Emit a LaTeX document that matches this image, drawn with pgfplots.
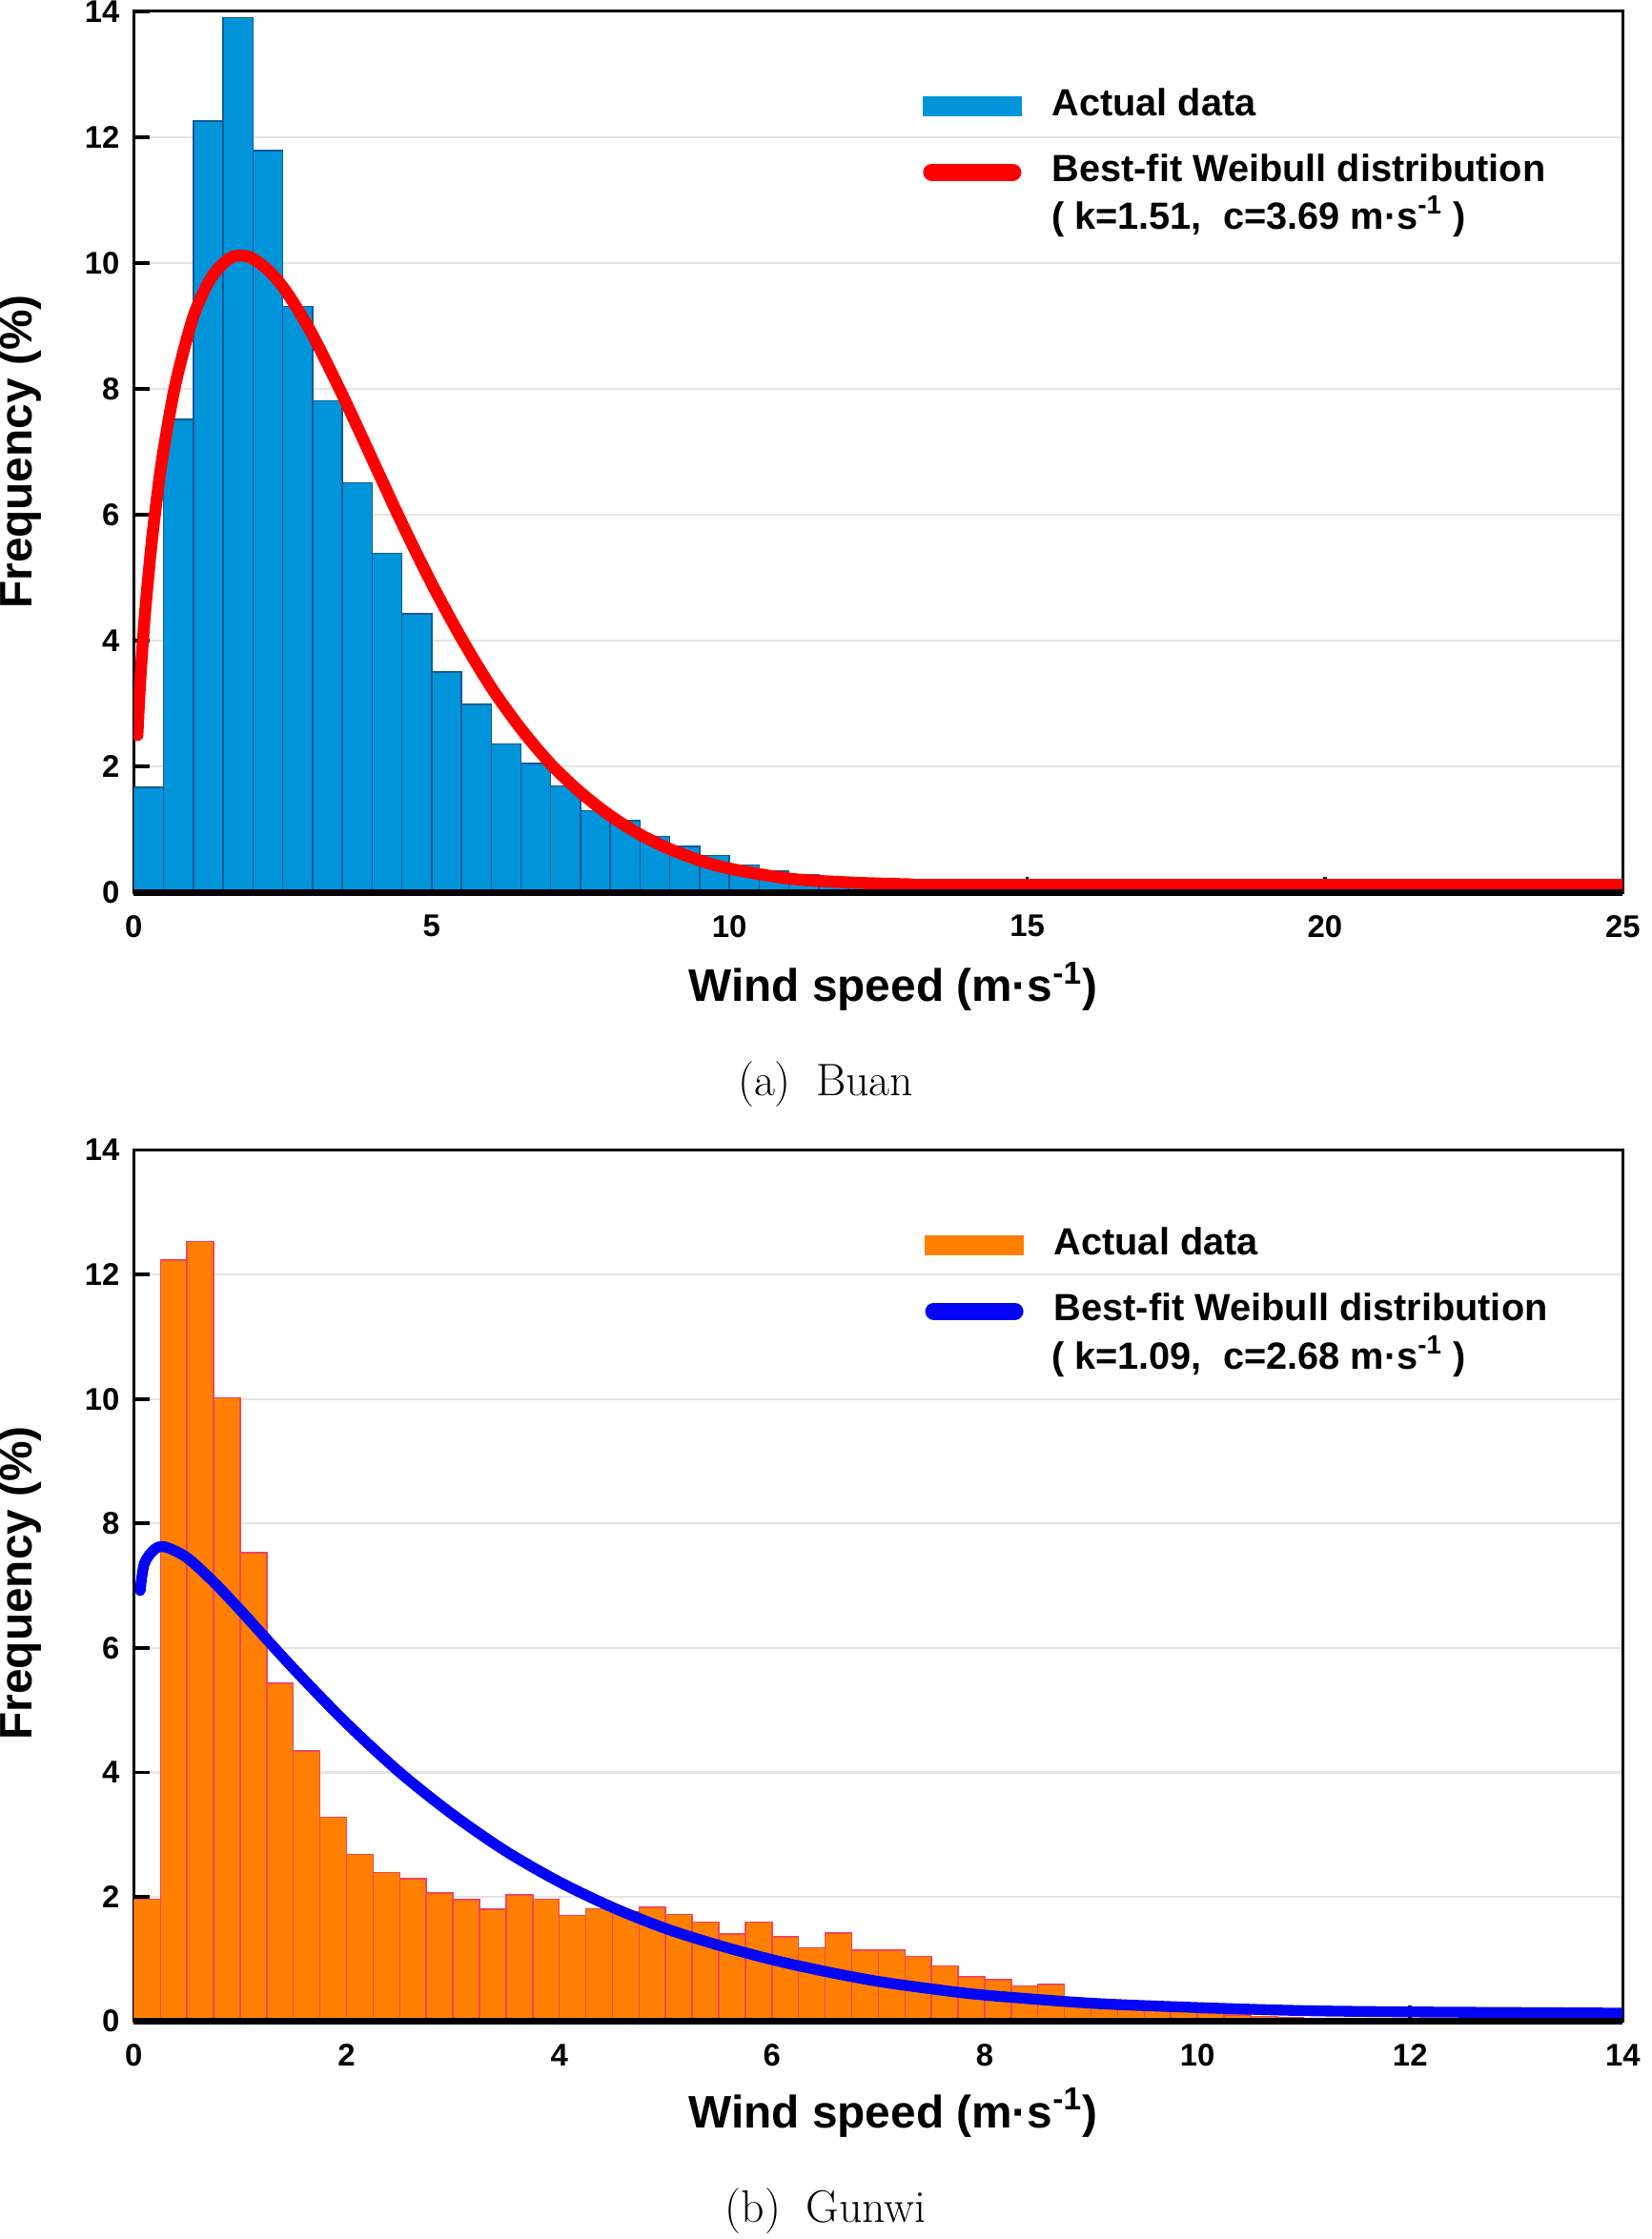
\documentclass[border=0pt]{standalone}
\usepackage{fontspec}
\usepackage{pgfplots}
\pgfplotsset{compat=1.18}
\newfontfamily\sansb{Liberation Sans}
\definecolor{barblue}{RGB}{0,148,218}
\definecolor{baredge}{RGB}{20,90,150}
\definecolor{barorange}{RGB}{255,128,0}
\definecolor{orangeedge}{RGB}{240,70,90}
\definecolor{curvered}{RGB}{255,0,0}
\definecolor{curveblue}{RGB}{5,5,245}
\definecolor{gridgray}{RGB}{228,228,228}
\pgfplotsset{
  layers/mylayers/.define layer set={axis background,axis grid,main,axis ticks,axis lines,axis tick labels,axis descriptions,axis foreground}{},
  mystyle/.style={
    set layers=mylayers,
    scale only axis, width=523pt,
    axis line style={line width=1pt},
    tick align=inside, tick pos=left,
    major tick length=5.5pt,
    tick style={line width=1.2pt, black},
    ymin=0, ymax=14, ytick={0,2,...,14},
    ymajorgrids, major grid style={gridgray, line width=0.8pt},
    /pgf/number format/assume math mode=true,
    ticklabel style={font=\sansb\bfseries\fontsize{11}{13}\selectfont},
    yticklabel style={xshift=-1.5pt},
    xticklabel style={yshift=-4.5pt},
    label style={font=\sansb\bfseries\fontsize{16}{19}\selectfont},
    legend style={draw=none, fill=none, inner sep=0pt, outer sep=0pt,
      row sep=10.4pt, column sep=10.5pt,
      font=\sansb\bfseries\fontsize{13.3}{16}\selectfont,
      nodes={inner sep=0pt, text height=9.7pt, text depth=3pt}},
    legend cell align=left,
  }
}
\begin{document}
\begin{tikzpicture}
\begin{axis}[mystyle, name=top, height=309.5pt, xmin=0, xmax=25, xtick={0,5,...,25},
  xlabel={Wind speed (m·s\textsuperscript{-1})}, ylabel={Frequency (\%)},
  xlabel style={at={(axis description cs:0.51,-0.1066)}, anchor=center},
  ylabel style={at={(axis description cs:-0.0765,0.5)}, anchor=center},
  legend style={at={(axis description cs:0.5296,0.9127)}, anchor=north west}]
\addplot[ybar interval, fill=barblue, draw=baredge, line width=0.5pt,
  legend image code/.code={\fill[barblue] (0pt,-3.2pt) rectangle (34.5pt,3.2pt);}]
  coordinates {(0,1.67) (0.5,7.52) (1,12.26) (1.5,13.9) (2,11.79) (2.5,9.31) (3,7.81)
  (3.5,6.51) (4,5.39) (4.5,4.43) (5,3.50) (5.5,2.99) (6,2.36) (6.5,2.05) (7,1.69)
  (7.5,1.30) (8,1.14) (8.5,0.89) (9,0.73) (9.5,0.59) (10,0.44) (10.5,0.34) (11,0.28)
  (11.5,0.23) (12,0.17) (12.5,0.12) (13,0.09) (13.5,0.06) (14,0.04) (14.5,0.03) (15,0.03)};
\addlegendentry{Actual data}
\addplot[curvered, line width=4.2pt, smooth, line cap=round,
  legend image code/.code={\draw[curvered, line width=6pt, line cap=round] (3pt,0pt) -- (31.5pt,0pt);}]
  coordinates {(0.06,2.50) (0.1,3.24) (0.15,3.96) (0.2,4.57) (0.3,5.56) (0.4,6.36)
  (0.5,7.03) (0.7,8.08) (1.0,9.15) (1.3,9.77) (1.6,10.07) (1.8,10.12) (2.0,10.07)
  (2.3,9.85) (2.6,9.49) (3.0,8.86) (3.5,7.91) (4.0,6.89) (4.5,5.87) (5.0,4.91)
  (5.5,4.04) (6.0,3.26) (6.5,2.60) (7.0,2.04) (7.5,1.59) (8.0,1.22) (8.5,0.92)
  (9.0,0.69) (9.5,0.51) (10,0.38) (11,0.22) (12,0.16) (13,0.13) (14,0.12) (25,0.12)};
\addlegendentry{Best-fit Weibull distribution}
\node[anchor=west, inner sep=0pt, font=\sansb\bfseries\fontsize{13.3}{16}\selectfont]
  at (axis description cs:0.616,0.767) {( k=1.51,\ \ c=3.69 m·s\textsuperscript{-1} )};
\end{axis}
\begin{axis}[mystyle, name=bot, at={(0,-396.5pt)}, height=306pt, xmin=0, xmax=14, xtick={0,2,...,14},
  xlabel={Wind speed (m·s\textsuperscript{-1})}, ylabel={Frequency (\%)},
  xlabel style={at={(axis description cs:0.51,-0.1046)}, anchor=center},
  ylabel style={at={(axis description cs:-0.0765,0.503)}, anchor=center},
  legend style={at={(axis description cs:0.531,0.9113)}, anchor=north west}]
\addplot[ybar interval, fill=barorange, draw=orangeedge, line width=0.5pt,
  legend image code/.code={\fill[barorange] (0pt,-3.2pt) rectangle (34.5pt,3.2pt);}]
  coordinates {(0,1.96) (0.25,12.23) (0.5,12.53) (0.75,10.02) (1.0,7.53) (1.25,5.43)
  (1.5,4.34) (1.75,3.28) (2.0,2.68) (2.25,2.39) (2.5,2.29) (2.75,2.06) (3.0,1.95)
  (3.25,1.80) (3.5,2.03) (3.75,1.96) (4.0,1.70) (4.25,1.81) (4.5,1.76) (4.75,1.83)
  (5.0,1.72) (5.25,1.59) (5.5,1.40) (5.75,1.59) (6.0,1.36) (6.25,1.18) (6.5,1.42)
  (6.75,1.14) (7.0,1.14) (7.25,1.04) (7.5,0.89) (7.75,0.71) (8.0,0.67) (8.25,0.57)
  (8.5,0.59) (8.75,0.30) (9.0,0.26) (9.25,0.22) (9.5,0.18) (9.75,0.15) (10.0,0.12)
  (10.25,0.10) (10.5,0.08) (10.75,0.06) (11.0,0.05) (11.25,0.04) (11.5,0.04)};
\addlegendentry{Actual data}
\addplot[curveblue, line width=3.8pt, smooth, line cap=round,
  legend image code/.code={\draw[curveblue, line width=6pt, line cap=round] (3pt,0pt) -- (31.5pt,0pt);}]
  coordinates {(0.06,6.92) (0.1,7.36) (0.2,7.59) (0.3,7.62) (0.5,7.45) (0.75,7.06)
  (1.0,6.61) (1.5,5.67) (2.0,4.79) (2.5,4.00) (3.0,3.32) (3.5,2.73) (4.0,2.24)
  (4.5,1.83) (5.0,1.49) (5.5,1.22) (6.0,0.99) (6.5,0.80) (7.0,0.64) (7.5,0.52)
  (8.0,0.42) (9.0,0.29) (10,0.22) (11,0.17) (12,0.15) (13,0.14) (14,0.13)};
\addlegendentry{Best-fit Weibull distribution}
\node[anchor=west, inner sep=0pt, font=\sansb\bfseries\fontsize{13.3}{16}\selectfont]
  at (axis description cs:0.616,0.763) {( k=1.09,\ \ c=2.68 m·s\textsuperscript{-1} )};
\end{axis}
\draw[line width=2.5pt] (0,0) -- (523pt,0);
\draw[line width=2.5pt] (0,-396.5pt) -- (523pt,-396.5pt);
\node[font=\fontsize{16}{19}\selectfont] at (243pt,-67.5pt) {(a)\hspace{0.55em}Buan};
\node[font=\fontsize{16}{19}\selectfont] at (243pt,-463pt) {(b)\hspace{0.55em}Gunwi};
\pgfresetboundingbox
\path (-47pt,-473pt) rectangle (533pt,313.5pt);
\end{tikzpicture}
\end{document}
